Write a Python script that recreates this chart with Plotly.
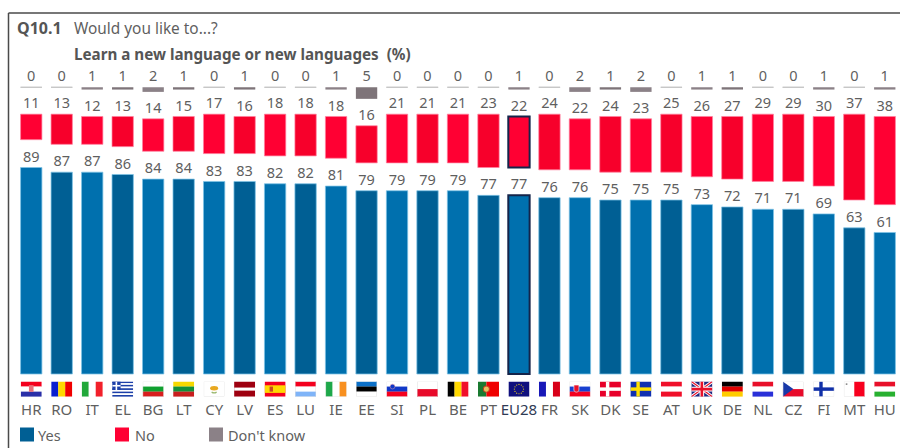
import base64
import math
import plotly.graph_objects as go

# Survey results (%), ordered by the share answering "Yes"
countries = ["HR", "RO", "IT", "EL", "BG", "LT", "CY", "LV", "ES", "LU", "IE", "EE", "SI", "PL", "BE",
             "PT", "EU28", "FR", "SK", "DK", "SE", "AT", "UK", "DE", "NL", "CZ", "FI", "MT", "HU"]
yes = [89, 87, 87, 86, 84, 84, 83, 83, 82, 82, 81, 79, 79, 79, 79,
       77, 77, 76, 76, 75, 75, 75, 73, 72, 71, 71, 69, 63, 61]
no = [11, 13, 12, 13, 14, 15, 17, 16, 18, 18, 18, 16, 21, 21, 21,
      23, 22, 24, 22, 24, 23, 25, 26, 27, 29, 29, 30, 37, 38]
dont_know = [0, 0, 1, 1, 2, 1, 0, 1, 0, 0, 1, 5, 0, 0, 0,
             0, 1, 0, 2, 1, 2, 0, 1, 1, 0, 0, 1, 0, 1]

# Page geometry, in pixels
W, H = 900, 448
M_L, M_R, M_T, M_B = 16, 0, 60, 49
PX_PER_UNIT = 2.32
ZERO_PX = 374
LABEL_GAP = 9.5 / PX_PER_UNIT

# The three answer groups hang from fixed levels above the "Yes" column
NO_TOP = 112.0
DK_TOP = 123.6

BLUE = ["#0070AE", "#005F94"]
RED = ["#FF0033", "#F7002B"]
GREY = ["#8B8187", "#7E7479"]
TEXT = "#5F5F5F"
EU_OUTLINE = "#14244A"
FONT = "Noto Sans"
EU_INDEX = countries.index("EU28")


def paper_x(px):
    return (px - M_L) / (W - M_L - M_R)


def paper_y(py):
    return (H - M_B - py) / (H - M_T - M_B)


def stripes(colors, vertical=False):
    n = len(colors)
    out = ""
    for i, c in enumerate(colors):
        if vertical:
            out += f'<rect x="{21 * i / n}" y="0" width="{21 / n + 0.1}" height="15" fill="{c}"/>'
        else:
            out += f'<rect x="0" y="{15 * i / n}" width="21" height="{15 / n + 0.1}" fill="{c}"/>'
    return out


def nordic(field, cross):
    return (f'<rect width="21" height="15" fill="{field}"/>'
            f'<rect x="6" width="3.4" height="15" fill="{cross}"/>'
            f'<rect y="5.8" width="21" height="3.4" fill="{cross}"/>')


def eu_stars():
    dots = ""
    for k in range(12):
        a = k * math.pi / 6
        dots += f'<circle cx="{10.5 + 4.6 * math.cos(a):.2f}" cy="{7.5 + 4.6 * math.sin(a):.2f}" r="0.6" fill="#E8D020"/>'
    return '<rect width="21" height="15" fill="#10107E"/>' + dots


def greece():
    body = stripes(["#1C3FA8", "#FFFFFF"] * 4 + ["#1C3FA8"])
    return (body + '<rect width="8.4" height="8.4" fill="#1C3FA8"/>'
            '<rect x="3.4" width="1.6" height="8.4" fill="#FFF"/><rect y="3.4" width="8.4" height="1.6" fill="#FFF"/>')


def union_jack():
    return ('<rect width="21" height="15" fill="#1F2A80"/>'
            '<path d="M0 0L21 15M21 0L0 15" stroke="#FFF" stroke-width="3"/>'
            '<path d="M0 0L21 15M21 0L0 15" stroke="#E8102A" stroke-width="1.2"/>'
            '<path d="M10.5 0V15M0 7.5H21" stroke="#FFF" stroke-width="4.6"/>'
            '<path d="M10.5 0V15M0 7.5H21" stroke="#E8102A" stroke-width="2.6"/>')


R, W_ = "#F4001E", "#FFFFFF"
FLAGS = {
    "HR": stripes([R, W_, "#2A2FA8"]) + '<rect x="8.2" y="3.6" width="4.6" height="6.6" fill="#E8707A"/>',
    "RO": stripes(["#0A1FD0", "#FFD800", "#F00000"], True),
    "IT": stripes(["#22A83A", W_, "#F2202A"], True),
    "EL": greece(),
    "BG": stripes([W_, "#10A030", "#D81E1E"]),
    "LT": stripes(["#F6D800", "#12903A", "#C81E1E"]),
    "CY": f'<rect width="21" height="15" fill="{W_}"/><ellipse cx="10.5" cy="6.6" rx="4" ry="2.2" fill="#E8A820"/>'
          '<path d="M8 10.5Q10.5 12 13 10.5" stroke="#9AB870" stroke-width="1.2" fill="none"/>',
    "LV": '<rect width="21" height="15" fill="#9E0010"/><rect y="6" width="21" height="3" fill="#FFFFFF"/>',
    "ES": '<rect width="21" height="15" fill="#F4001E"/><rect y="3.75" width="21" height="7.5" fill="#FFD800"/>'
          '<rect x="5" y="5" width="3.4" height="5" fill="#C84A20"/>',
    "LU": stripes([R, W_, "#7FB4F8"]),
    "IE": stripes(["#1EA84A", W_, "#F89020"], True),
    "EE": stripes(["#0C70C8", "#000000", W_]),
    "SI": stripes([W_, "#1038C8", R]) + '<circle cx="6" cy="5" r="2.4" fill="#1038C8" stroke="#F4A0A0" stroke-width="0.5"/>',
    "PL": stripes([W_, "#E80A2A"]),
    "BE": stripes(["#000000", "#FFD800", "#F0102A"], True),
    "PT": '<rect width="8.4" height="15" fill="#1A7A30"/>'
          '<rect x="8.4" width="12.6" height="15" fill="#F00000"/>'
          '<circle cx="8.4" cy="7.5" r="3" fill="#E8C060" stroke="#C04020" stroke-width="1"/>',
    "EU28": eu_stars(),
    "FR": stripes(["#1818B8", W_, "#D80018"], True),
    "SK": stripes([W_, "#1840D0", R]) + '<path d="M4.5 3.5h5v5.5q-2.5 3-5 0z" fill="#E8102A" stroke="#FFF" stroke-width="0.6"/>',
    "DK": nordic("#E8002A", W_),
    "SE": nordic("#1030B0", "#FFE000"),
    "AT": stripes(["#F0102A", W_, "#F0102A"]),
    "UK": union_jack(),
    "DE": stripes(["#000000", "#E00000", "#FFCC00"]),
    "NL": stripes(["#E8102A", W_, "#2A30D8"]),
    "CZ": stripes([W_, "#E80A2A"]) + '<path d="M0 0L10.5 7.5L0 15Z" fill="#1838A8"/>',
    "FI": nordic(W_, "#1030A8"),
    "MT": stripes([W_, "#F8001E"], True) + '<rect x="2" y="1.8" width="1.6" height="1.6" fill="#888"/>',
    "HU": stripes(["#E8102A", W_, "#28B030"]),
}


def flag_uri(code):
    pale = code in ("BG", "CY", "CZ", "EE", "FI", "IE", "MT", "PL", "SI", "SK", "LU")
    edge = '<rect x="0.25" y="0.25" width="20.5" height="14.5" fill="none" stroke="#DDD" stroke-width="0.5"/>' if pale else ""
    svg = ('<svg xmlns="http://www.w3.org/2000/svg" width="84" height="60" viewBox="0 0 21 15" '
           f'preserveAspectRatio="none">{FLAGS[code]}{edge}</svg>')
    return "data:image/svg+xml;base64," + base64.b64encode(svg.encode()).decode()


def alternate(pair):
    return [pair[i % 2] for i in range(len(countries))]


def edge_widths(normal):
    return [2 if i == EU_INDEX else normal for i in range(len(countries))]


def edge_colors(normal):
    return [EU_OUTLINE if i == EU_INDEX else normal for i in range(len(countries))]


fig = go.Figure()
yes_base = [0] * len(countries)
no_base = [NO_TOP - d - n for d, n in zip(dont_know, no)]
dk_base = [DK_TOP - d for d in dont_know]

fig.add_bar(
    name="Yes", x=countries, y=yes, base=yes_base,
    marker=dict(color=alternate(BLUE),
                line=dict(color=edge_colors("rgba(125,195,230,0.75)"), width=edge_widths(1))),
)
fig.add_bar(
    name="No", x=countries, y=no, base=no_base,
    marker=dict(color=alternate(RED),
                line=dict(color=edge_colors("rgba(255,130,160,0.7)"), width=edge_widths(1))),
)
fig.add_bar(
    name="Don't know", x=countries, y=dont_know, base=dk_base,
    marker=dict(color=alternate(GREY),
                line=dict(color=["#C4C4C4" if d == 0 else "rgba(0,0,0,0)" for d in dont_know],
                          width=[1 if d == 0 else 0 for d in dont_know])),
)

# Value labels float a fixed distance above the end of each bar
for values, bases in ((yes, yes_base), (no, no_base), (dont_know, dk_base)):
    fig.add_scatter(
        x=countries, y=[b + v + LABEL_GAP for b, v in zip(bases, values)],
        mode="text", text=[str(v) for v in values], textposition="middle center",
        textfont=dict(family=FONT, size=14.5, color=TEXT), hoverinfo="skip",
    )

tick_text = [f'<span style="color:#2F3B55">{c}</span>' if c == "EU28" else c for c in countries]

fig.update_layout(
    width=W, height=H,
    margin=dict(l=M_L, r=M_R, t=M_T, b=M_B, pad=0),
    paper_bgcolor="white", plot_bgcolor="white",
    barmode="overlay", bargap=0.3, showlegend=False,
    font=dict(family=FONT, color=TEXT),
    xaxis=dict(type="category", categoryorder="array", categoryarray=countries,
               tickmode="array", tickvals=countries, ticktext=tick_text,
               tickfont=dict(family=FONT, size=15, color=TEXT),
               ticks="", showgrid=False, showline=False, zeroline=False, tickangle=0,
               range=[-0.5, len(countries) - 0.5]),
    yaxis=dict(visible=False, showgrid=False, zeroline=False,
               range=[(ZERO_PX - (H - M_B)) / PX_PER_UNIT, (ZERO_PX - M_T) / PX_PER_UNIT]),
)

# Flags sit in the band between the bars and the country codes
for code in countries:
    fig.add_layout_image(
        source=flag_uri(code), xref="x", yref="y", x=countries.index(code), y=(ZERO_PX - 381.5) / PX_PER_UNIT,
        sizex=0.69, sizey=15.2 / PX_PER_UNIT, xanchor="center", yanchor="top", sizing="stretch", layer="above",
    )

# Frame: top and left rules only
frame = dict(type="line", xref="paper", yref="paper", line=dict(color="#4A4A4A", width=1.5))
fig.add_shape(**frame, x0=paper_x(8.5), x1=paper_x(8.5), y0=paper_y(13), y1=paper_y(448))
fig.add_shape(**frame, x0=paper_x(8.5), x1=paper_x(900), y0=paper_y(13), y1=paper_y(13))


def text_at(px, py, text, size=14, color=TEXT):
    fig.add_annotation(xref="paper", yref="paper", x=paper_x(px - 2), y=paper_y(py), text=text, showarrow=False,
                       xanchor="left", yanchor="middle", align="left",
                       font=dict(family=FONT, size=size, color=color))


text_at(17, 28, "<b>Q10.1</b>", size=16, color="#555555")
text_at(74, 28, "Would you like to...?", size=15.4)
text_at(74, 53.5, "<b>Learn a new language or new languages  (%)</b>", size=15.2, color="#555555")

# Key along the bottom edge
legend_items = [("Yes", BLUE[1], 20, 37), ("No", RED[0], 115, 134), ("Don't know", GREY[0], 209, 227)]
for label, color, left, text_left in legend_items:
    fig.add_shape(type="rect", xref="paper", yref="paper", line=dict(width=0), fillcolor=color,
                  x0=paper_x(left), x1=paper_x(left + 14), y0=paper_y(441.5), y1=paper_y(427.5))
    text_at(text_left + 1, 434.5, label, size=14.5)

fig.write_html("out.html")
